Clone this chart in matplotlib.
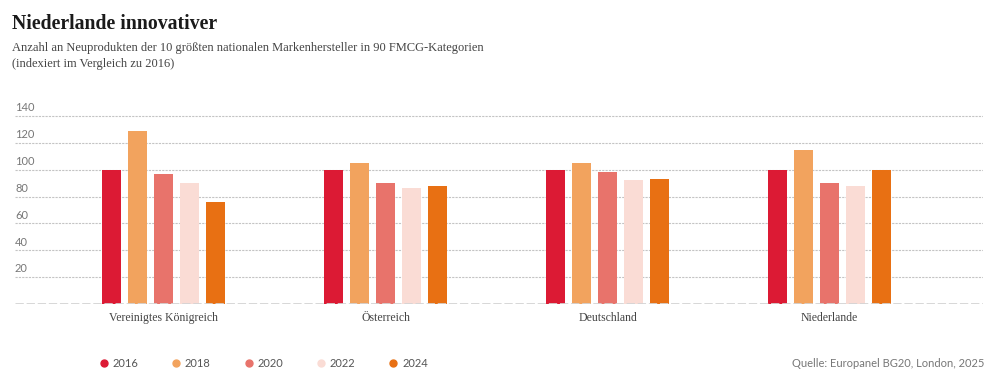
import numpy as np
import matplotlib.pyplot as plt
from matplotlib.lines import Line2D
from matplotlib.transforms import blended_transform_factory

countries = ["Vereinigtes Königreich", "Österreich", "Deutschland", "Niederlande"]
years = ["2016", "2018", "2020", "2022", "2024"]
v2016 = [100, 100, 100, 100]
v2018 = [129, 105, 105, 115]
v2020 = [97, 90, 98, 90]
v2022 = [90, 86, 92, 88]
v2024 = [76, 88, 93, 100]
colors = ["#DC1A34", "#F2A35E", "#E8736B", "#FADCD5", "#E87013"]
yticks = [20, 40, 60, 80, 100, 120, 140]

series = [v2016, v2018, v2020, v2022, v2024]

fig = plt.figure(figsize=(10, 3.81), dpi=100)
ax = fig.add_axes([0.015, 0.2021, 0.968, 0.4960])

x = np.arange(len(countries))
step = 0.117
width = 0.0856
for j, (vals, c) in enumerate(zip(series, colors)):
    ax.bar(x + (j - 2) * step, vals, width=width, color=c, zorder=3)

ax.set_xlim(-0.669, 3.691)
ax.set_ylim(0, 140.7)
for s in ax.spines.values():
    s.set_visible(False)
ax.set_xticks([])
ax.set_yticks([])

trans = blended_transform_factory(ax.transAxes, ax.transData)
for t in yticks:
    ax.axhline(t, color="#c4c4c4", lw=0.8, ls=(0, (2, 1)), zorder=1)
    ax.text(0.0, t + 2, str(t), transform=trans, ha="left", va="bottom",
            fontsize=8, family="Lato", color="#777777")
ax.axhline(0, color="#d4d4d4", lw=2, ls=(0, (3, 1)), zorder=4)

for i, name in enumerate(countries):
    ax.text(x[i], -6, name, ha="center", va="top", fontsize=8.5,
            family="Liberation Serif", color="#444444")

fig.text(0.012, 0.925, "Niederlande innovativer", fontsize=14.2, fontweight="bold",
         family="Liberation Serif", color="#1a1a1a", va="baseline")
fig.text(0.012, 0.866, "Anzahl an Neuprodukten der 10 größten nationalen Markenhersteller in 90 FMCG-Kategorien",
         fontsize=9, family="Liberation Serif", color="#444444", va="baseline")
fig.text(0.012, 0.824, "(indexiert im Vergleich zu 2016)",
         fontsize=9, family="Liberation Serif", color="#444444", va="baseline")

handles = [Line2D([], [], marker="o", ls="", color=c, markersize=5) for c in colors]
fig.legend(handles, years, loc="center left", bbox_to_anchor=(0.088, 0.047), ncol=5,
           frameon=False, handletextpad=0.3, columnspacing=2.9, handlelength=1.0,
           prop={"family": "Lato", "size": 8}, labelcolor="#555555")

fig.text(0.984, 0.047, "Quelle: Europanel BG20, London, 2025", ha="right", va="center",
         fontsize=8, family="Lato", color="#777777")

fig.savefig("out.png", dpi=100)
